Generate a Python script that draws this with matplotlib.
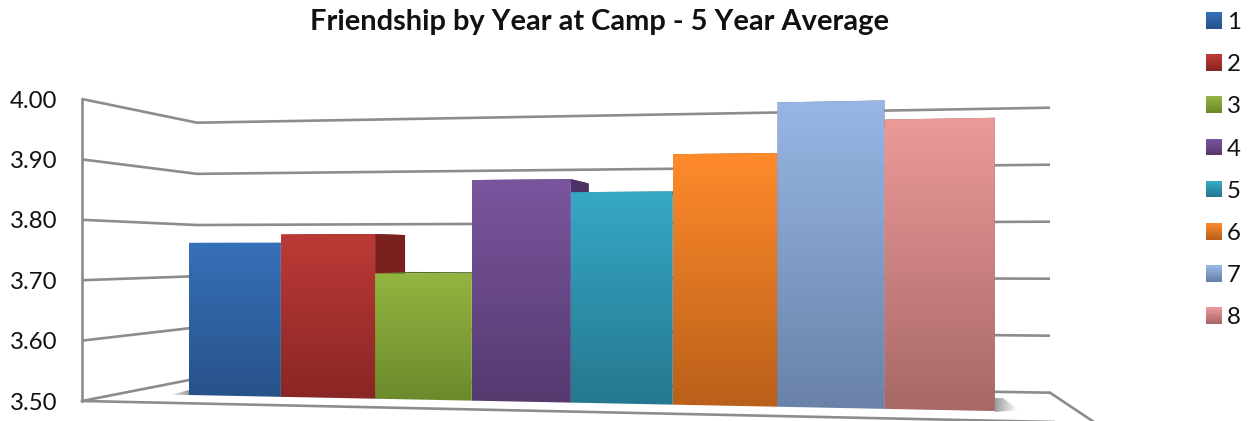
import numpy as np
import matplotlib
matplotlib.use("Agg")
import matplotlib.pyplot as plt
from matplotlib.colors import to_rgb
from matplotlib.legend_handler import HandlerBase
from matplotlib.patches import Polygon, Rectangle

categories = ["1", "2", "3", "4", "5", "6", "7", "8"]
values = [3.77, 3.785, 3.717, 3.877, 3.855, 3.917, 4.00, 3.969]
y_ticks = [3.50, 3.60, 3.70, 3.80, 3.90, 4.00]
tops = ["#3670B8", "#BC3A36", "#93B540", "#7A559E", "#36A8C6", "#FF8A2B", "#98B6E5", "#EC9A98"]
bottoms = ["#27528A", "#8A2625", "#6B8A2C", "#553A70", "#25788F", "#BA601A", "#6A82A8", "#A86868"]
sides = ["#1F3F6A", "#7A201E", "#556E22", "#4B3166", "#1C5D70", "#8F4A14", "#526684", "#845050"]
title = "Friendship by Year at Camp - 5 Year Average"

plt.rcParams["font.family"] = ["Lato", "DejaVu Sans"]
W, H = 1251, 421
fig = plt.figure(figsize=(W / 100, H / 100), dpi=100)
ax = fig.add_axes([0, 0, 1, 1])
K = 0.5 / 302


def yv(py):
    """Pixel row to value position on the axis plane."""
    return 3.5 + (401 - py) * K


ax.set_xlim(0, W)
ax.set_ylim(yv(H), yv(0))
ax.patch.set_visible(False)
for s in ["top", "right", "bottom"]:
    ax.spines[s].set_visible(False)
GRID = "#8c8c8c"
LW = 1.9
ax.spines["left"].set_position(("data", 82))
ax.spines["left"].set_bounds(3.5, 4.0)
ax.spines["left"].set_color(GRID)
ax.spines["left"].set_linewidth(LW)
ax.set_xticks([])
ax.set_yticks(y_ticks, [f"{t:.2f}" for t in y_ticks])
ax.tick_params(axis="y", length=0, pad=18, labelsize=17.3, labelcolor="#111111")

# Perspective of the plot box
for v in y_ticks:
    d = (v - 3.5) / 0.1
    ys = [401 - 60.4 * d, 378.5 - 51.16 * d, 392.7 - 57.0 * d]
    ax.plot([82, 197, 1050], [yv(p) for p in ys], color=GRID, lw=LW, zorder=1,
            solid_joinstyle="miter", solid_capstyle="butt")
ax.plot([82, 1100], [yv(401), yv(423)], color=GRID, lw=LW, zorder=1)
ax.plot([1050, 1100], [yv(392.7), yv(426)], color=GRID, lw=LW, zorder=1)


# Perspective of the bar plane: e is the bar edge index
def den(e):
    return 1 - 0.01238 * e


def ex(e):
    return (189 + 88.4 * e) / den(e)


def ey(e, v):
    return (395 - 3.08 * e - 563.4 * (v - 3.5)) / den(e)


VP = (865.0, 250.0)
DEPTH = 0.0612


def back(x, y):
    return x + DEPTH * (VP[0] - x), y + DEPTH * (VP[1] - y)


def gradient(poly_px, c0, c1, zorder):
    xs, ys = zip(*poly_px)
    t = np.linspace(0, 1, 64)[:, None, None]
    arr = (1 - t) * np.array(to_rgb(c0))[None, None, :] + t * np.array(to_rgb(c1))[None, None, :]
    im = ax.imshow(arr, extent=(min(xs), max(xs), yv(max(ys)), yv(min(ys))), aspect="auto",
                   interpolation="bilinear", zorder=zorder)
    clip = Polygon([(x, yv(y)) for x, y in poly_px], closed=True, transform=ax.transData)
    im.set_clip_path(clip)


# Floor shadows
for poly, xr in [([(995, 398), (1003, 398), (1018, 410), (995, 412)], (995, 1018)),
                 ([(168, 395.5), (189, 390), (189, 395.5)], (189, 168))]:
    xs, ys = zip(*poly)
    a = np.zeros((1, 64, 4))
    a[..., :3] = 0.35
    ramp = np.linspace(0.6, 0, 64)
    a[..., 3] = ramp if xr[0] < xr[1] else ramp[::-1]
    im = ax.imshow(a, extent=(min(xs), max(xs), yv(max(ys)), yv(min(ys))), aspect="auto",
                   interpolation="bilinear", zorder=1.5)
    im.set_clip_path(Polygon([(x, yv(y)) for x, y in poly], closed=True, transform=ax.transData))

# Side and top faces, behind all the fronts
for i, v in enumerate(values):
    xl, xr = ex(i), ex(i + 1)
    tl, tr, br = ey(i, v), ey(i + 1, v), ey(i + 1, 3.5)
    bxr, byr = back(xr, tr)
    bxb, byb = back(xr, br)
    ax.add_patch(Polygon([(xr, yv(tr)), (bxr, yv(byr)), (bxb, yv(byb)), (xr, yv(br))],
                         closed=True, fc=sides[i], ec="none", zorder=2))
    bxl, byl = back(xl, tl)
    ax.add_patch(Polygon([(xl, yv(tl)), (xr, yv(tr)), (bxr, yv(byr)), (bxl, yv(byl))],
                         closed=True, fc=sides[i], ec="none", zorder=2))

# Fronts
for i, v in enumerate(values):
    poly = [(ex(i), ey(i, v)), (ex(i + 1), ey(i + 1, v)),
            (ex(i + 1), ey(i + 1, 3.5)), (ex(i), ey(i, 3.5))]
    gradient(poly, tops[i], bottoms[i], 3)

ax.set_xlim(0, W)
ax.set_ylim(yv(H), yv(0))

ax.text(600, yv(22), title, ha="center", va="center", fontsize=20.9, fontweight="bold", color="#111111")


class GradHandler(HandlerBase):
    def create_artists(self, legend, orig, xd, yd, width, height, fontsize, trans):
        n = 12
        c0, c1 = np.array(to_rgb(orig[0])), np.array(to_rgb(orig[1]))
        out = []
        for k in range(n):
            f = k / (n - 1)
            out.append(Rectangle((-xd, -yd + height * (1 - (k + 1) / n)), width, height / n + 0.3,
                                 fc=(1 - f) * c0 + f * c1, ec="none", transform=trans))
        return out


leg = ax.legend(list(zip(tops, bottoms)), categories, handler_map={tuple: GradHandler()},
                loc="upper left", bbox_to_anchor=(1206 / W, 1 - 12 / H), bbox_transform=fig.transFigure,
                frameon=False, fontsize=17.3, borderpad=0, borderaxespad=0,
                handlelength=0.66, handleheight=0.66, handletextpad=0.22, labelspacing=0.882)
for t in leg.get_texts():
    t.set_color("#111111")

fig.savefig("out.png", dpi=100)
